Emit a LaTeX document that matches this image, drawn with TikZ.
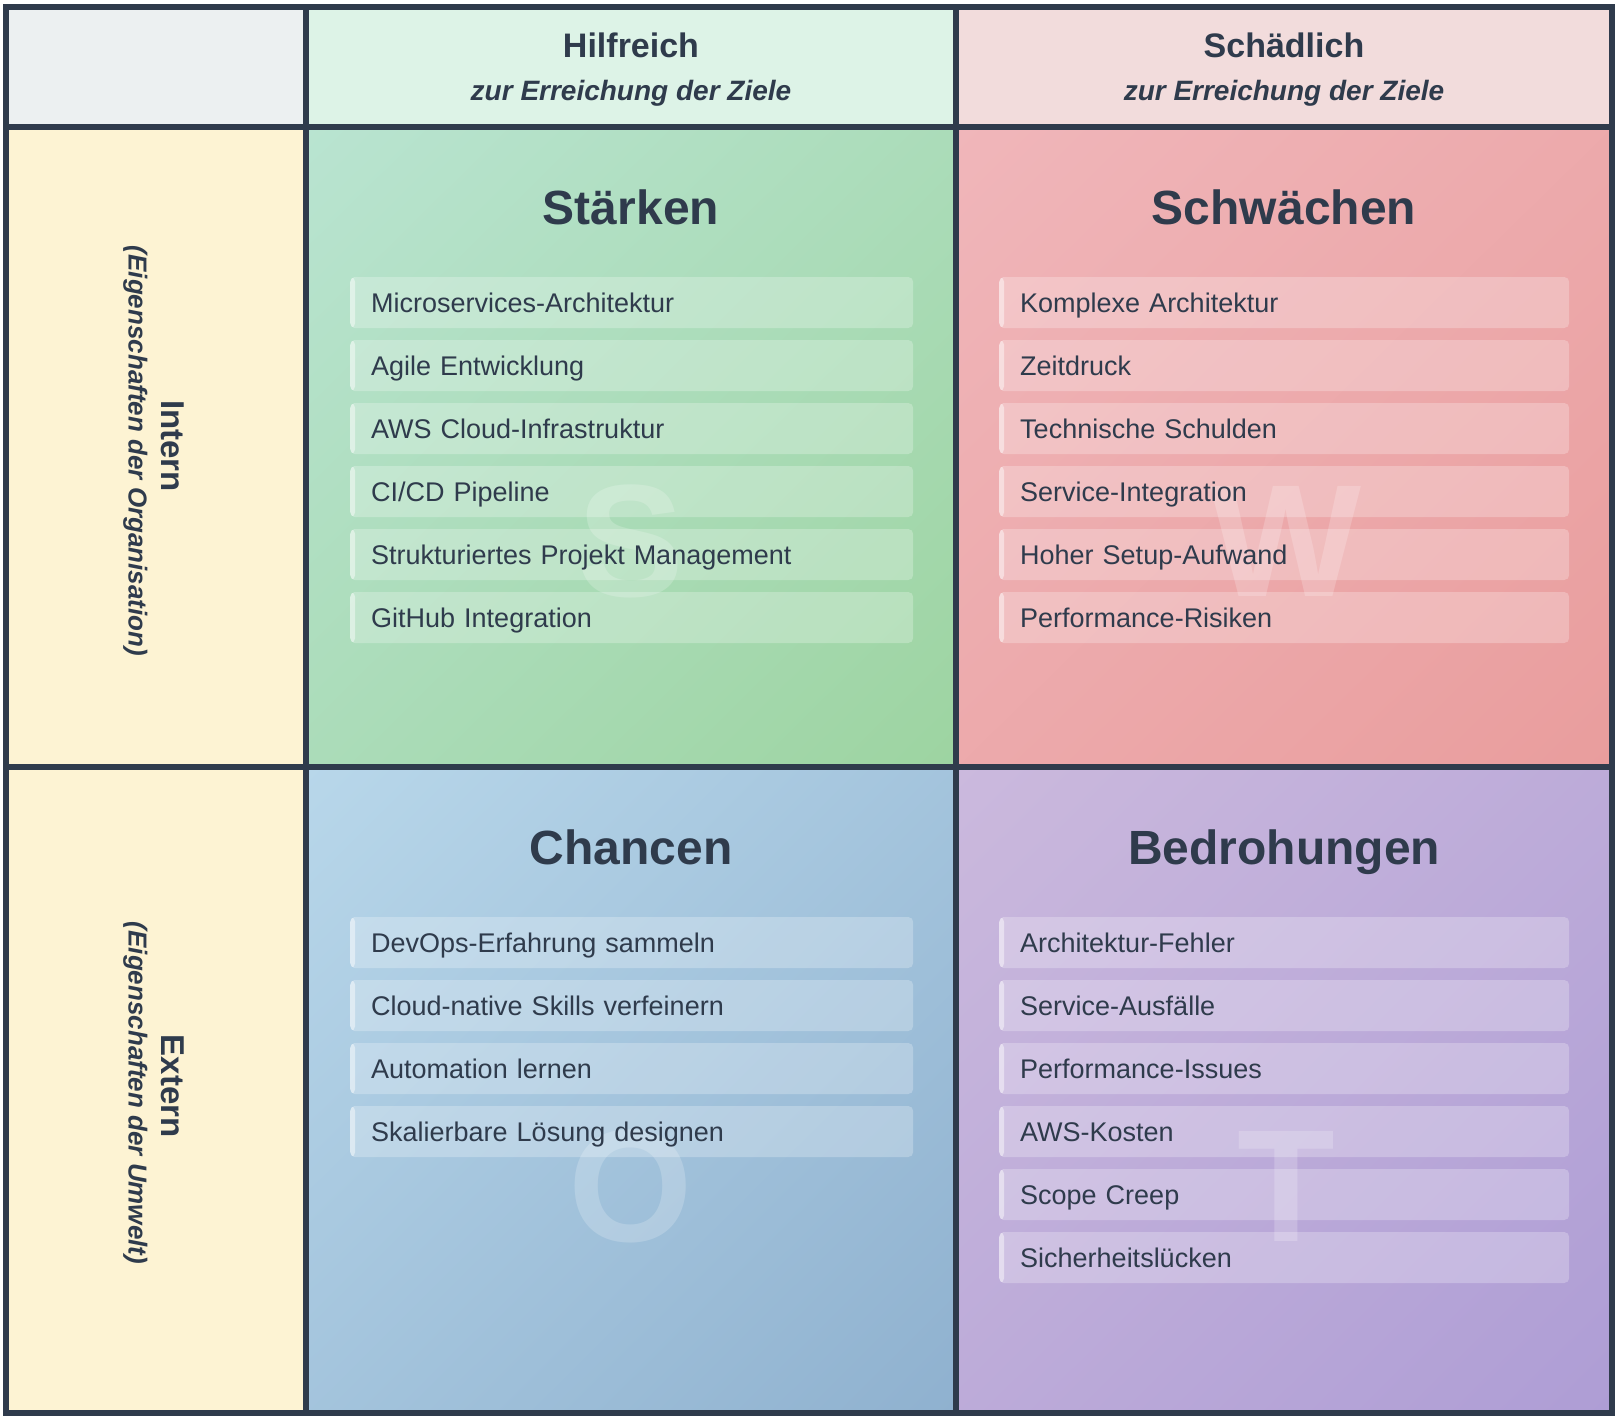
\documentclass[tikz,border=0pt]{standalone}
\usepackage{fontspec}
\setmainfont{Liberation Sans}
\usetikzlibrary{positioning,shadings}

\definecolor{ink}{HTML}{2F3B4C}
\definecolor{cornerbg}{HTML}{ECF0F1}
\definecolor{helpbg}{HTML}{DDF3E7}
\definecolor{harmbg}{HTML}{F2DCDC}
\definecolor{sidebg}{HTML}{FDF3D3}
\definecolor{sTL}{HTML}{B9E4D1}
\definecolor{sBR}{HTML}{9DD4A1}
\definecolor{wTL}{HTML}{F0B6BA}
\definecolor{wBR}{HTML}{E99D9D}
\definecolor{oTL}{HTML}{B8D7EA}
\definecolor{oBR}{HTML}{8FB1CF}
\definecolor{tTL}{HTML}{CBB9DD}
\definecolor{tBR}{HTML}{AE9DD5}

\tikzset{
  gridline/.style={draw=ink, line width=6pt},
  headmain/.style={font=\fontsize{34}{40}\selectfont\bfseries, text=ink, inner sep=0pt, text height=24.3pt, text depth=0pt},
  headsub/.style={font=\fontsize{28}{34}\selectfont\bfseries\itshape, text=ink, inner sep=0pt, text height=20pt, text depth=0pt},
  sidemain/.style={font=\fontsize{33}{40}\selectfont\bfseries, text=ink, inner sep=0pt, rotate=-90, text height=23.6pt, text depth=0pt},
  sidesub/.style={font=\fontsize{26}{32}\selectfont\bfseries\itshape, text=ink, inner sep=0pt, rotate=-90, text height=18.6pt, text depth=0pt},
  quadtitle/.style={font=\fontsize{48}{56}\selectfont\bfseries, text=ink, inner sep=0pt, text height=34.4pt, text depth=0pt},
  watermark/.style={font=\fontsize{160}{160}\selectfont\bfseries, text=white, text opacity=0.2, inner sep=0pt, text height=114.6pt, text depth=0pt},
  itembox/.style={anchor=west, rounded corners=5pt, fill=white, fill opacity=0.25, text opacity=1,
    text=ink, font=\fontsize{27}{32}\selectfont, align=left, text width=#1,
    inner xsep=21pt, inner ysep=0pt, minimum height=51pt, text height=19.4pt, text depth=0pt,
    path picture={\fill[white, fill opacity=0.45] (path picture bounding box.south west) rectangle ([xshift=5pt]path picture bounding box.north west);}},
  cornerfill/.style n args={2}{upper left=#1, lower right=#2, upper right={#1!50!#2}, lower left={#1!50!#2}}
}

\begin{document}
\begin{tikzpicture}[x=1pt, y=-1pt]
    \useasboundingbox (0,0) rectangle (1617,1417);

    % Kopfzeile und Randspalte
    \fill[cornerbg] (6,7) rectangle (306,127);
    \fill[helpbg] (306,7) rectangle (956,127);
    \fill[harmbg] (956,7) rectangle (1612,127);
    \fill[sidebg] (6,127) rectangle (306,1413);

    % Quadranten
    \shade[cornerfill={sTL}{sBR}] (306,127) rectangle (956,767);
    \shade[cornerfill={wTL}{wBR}] (956,127) rectangle (1612,767);
    \shade[cornerfill={oTL}{oBR}] (306,767) rectangle (956,1413);
    \shade[cornerfill={tTL}{tBR}] (956,767) rectangle (1612,1413);

    % Wasserzeichen
    \node[watermark] (markS) at (631,539) {S};
    \node[watermark] (markW) at (1286,539) {W};
    \node[watermark] (markO) at (631,1184) {O};
    \node[watermark] (markT) at (1286,1184) {T};

    % Gitter
    \draw[gridline] (6,7) rectangle (1612,1413);
    \draw[gridline] (306,7) -- (306,1413);
    \draw[gridline] (956,7) -- (956,1413);
    \draw[gridline] (6,127) -- (1612,127);
    \draw[gridline] (6,767) -- (1612,767);

    % Spaltenköpfe
    \node[headmain] (help) at (631,45) {Hilfreich};
    \node[headsub] (helpsub) at (631,90) {zur Erreichung der Ziele};
    \node[headmain] (harm) at (1284,45) {Schädlich};
    \node[headsub] (harmsub) at (1284,90) {zur Erreichung der Ziele};

    % Zeilenköpfe
    \node[sidemain] (intern) at (173,446) {Intern};
    \node[sidesub] (internsub) at (138,451) {(Eigenschaften der Organisation)};
    \node[sidemain] (extern) at (173,1086) {Extern};
    \node[sidesub] (externsub) at (138,1093) {(Eigenschaften der Umwelt)};

    % Titel
    \node[quadtitle] (strengths) at (631,207) {Stärken};
    \node[quadtitle] (weaknesses) at (1284,207) {Schwächen};
    \node[quadtitle] (chances) at (631,847) {Chancen};
    \node[quadtitle] (threats) at (1284,847) {Bedrohungen};

    % Einträge
    \foreach \txt [count=\i] in {Microservices-Architektur, Agile Entwicklung, AWS Cloud-Infrastruktur, CI/CD Pipeline, Strukturiertes Projekt Management, GitHub Integration}
        \node[itembox=521pt] (s\i) at (350,239.5+63*\i) {\txt};
    \foreach \txt [count=\i] in {Komplexe Architektur, Zeitdruck, Technische Schulden, Service-Integration, Hoher Setup-Aufwand, Performance-Risiken}
        \node[itembox=528pt] (w\i) at (999,239.5+63*\i) {\txt};
    \foreach \txt [count=\i] in {DevOps-Erfahrung sammeln, Cloud-native Skills verfeinern, Automation lernen, Skalierbare Lösung designen}
        \node[itembox=521pt] (o\i) at (350,879.5+63*\i) {\txt};
    \foreach \txt [count=\i] in {Architektur-Fehler, Service-Ausfälle, Performance-Issues, AWS-Kosten, Scope Creep, Sicherheitslücken}
        \node[itembox=528pt] (t\i) at (999,879.5+63*\i) {\txt};

\end{tikzpicture}
\end{document}
